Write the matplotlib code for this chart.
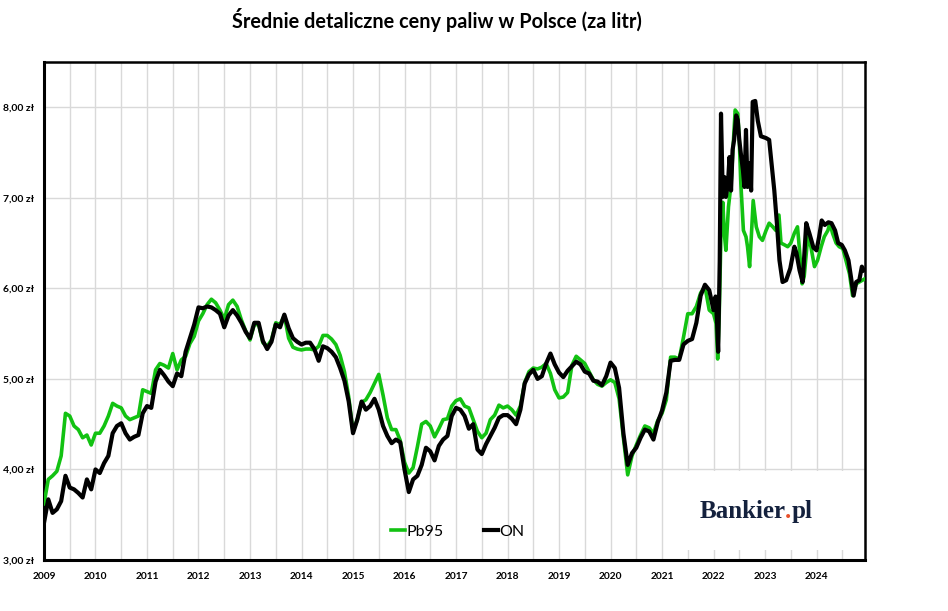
import numpy as np
import matplotlib
matplotlib.use("Agg")
from matplotlib import pyplot as plt
from matplotlib.patches import Rectangle

# monthly averages 2009-01 .. 2021-12 (zl per litre)
months = np.arange(2009, 2022, 1 / 12)

pb95_monthly = [
    3.62, 3.89, 3.93, 3.98, 4.15, 4.62, 4.59, 4.48, 4.44, 4.35, 4.38, 4.27,
    4.40, 4.40, 4.48, 4.59, 4.73, 4.70, 4.68, 4.59, 4.55, 4.57, 4.59, 4.88,
    4.86, 4.84, 5.10, 5.17, 5.15, 5.12, 5.28, 5.10, 5.21, 5.25, 5.39, 5.47,
    5.64, 5.72, 5.82, 5.88, 5.84, 5.76, 5.66, 5.82, 5.87, 5.80, 5.65, 5.53,
    5.43, 5.60, 5.60, 5.40, 5.36, 5.43, 5.62, 5.60, 5.70, 5.45, 5.35, 5.33,
    5.32, 5.33, 5.33, 5.32, 5.36, 5.48, 5.48, 5.44, 5.38, 5.26, 5.08, 4.80,
    4.42, 4.55, 4.74, 4.77, 4.85, 4.95, 5.05, 4.82, 4.57, 4.44, 4.44, 4.32,
    4.08, 3.96, 4.02, 4.25, 4.50, 4.53, 4.48, 4.36, 4.45, 4.55, 4.56, 4.70,
    4.76, 4.78, 4.70, 4.68, 4.55, 4.42, 4.35, 4.40, 4.55, 4.60, 4.71, 4.68,
    4.70, 4.66, 4.60, 4.70, 4.96, 5.08, 5.12, 5.11, 5.13, 5.17, 5.06, 4.88,
    4.79, 4.80, 4.85, 5.15, 5.25, 5.21, 5.17, 5.08, 4.99, 4.94, 4.92, 4.96,
    4.99, 4.96, 4.78, 4.35, 3.94, 4.15, 4.27, 4.38, 4.48, 4.46, 4.40, 4.54,
    4.62, 4.77, 5.24, 5.24, 5.22, 5.46, 5.72, 5.72, 5.80, 5.95, 6.02, 5.76,
]

on_monthly = [
    3.41, 3.67, 3.52, 3.56, 3.65, 3.93, 3.80, 3.78, 3.74, 3.69, 3.89, 3.78,
    4.00, 3.96, 4.07, 4.15, 4.40, 4.48, 4.51, 4.40, 4.33, 4.36, 4.38, 4.62,
    4.70, 4.68, 4.97, 5.10, 5.04, 4.97, 4.92, 5.06, 5.03, 5.30, 5.45, 5.60,
    5.79, 5.78, 5.80, 5.79, 5.76, 5.72, 5.57, 5.70, 5.76, 5.70, 5.62, 5.52,
    5.45, 5.62, 5.62, 5.42, 5.33, 5.41, 5.60, 5.57, 5.71, 5.56, 5.45, 5.41,
    5.38, 5.40, 5.40, 5.33, 5.20, 5.36, 5.34, 5.30, 5.24, 5.12, 4.98, 4.75,
    4.40, 4.55, 4.75, 4.66, 4.70, 4.78, 4.66, 4.48, 4.37, 4.29, 4.33, 4.30,
    4.00, 3.75, 3.89, 3.93, 4.05, 4.24, 4.20, 4.10, 4.26, 4.33, 4.37, 4.59,
    4.68, 4.66, 4.59, 4.45, 4.50, 4.22, 4.17, 4.28, 4.37, 4.46, 4.57, 4.60,
    4.60, 4.56, 4.50, 4.66, 4.95, 5.05, 5.10, 5.00, 5.03, 5.17, 5.28, 5.16,
    5.07, 5.02, 5.09, 5.14, 5.19, 5.16, 5.08, 5.06, 4.98, 4.97, 4.93, 5.03,
    5.18, 5.12, 4.90, 4.40, 4.05, 4.18, 4.24, 4.35, 4.44, 4.42, 4.33, 4.52,
    4.65, 4.85, 5.20, 5.21, 5.21, 5.38, 5.42, 5.44, 5.62, 5.92, 6.04, 5.98,
]

# 2022-2024 read at finer resolution (decimal years)
pb95_late_t = [2022.00, 2022.05, 2022.08, 2022.11, 2022.15, 2022.18, 2022.21, 2022.24,
               2022.29, 2022.34, 2022.38, 2022.42, 2022.47, 2022.50, 2022.53, 2022.58,
               2022.63, 2022.66, 2022.70, 2022.73, 2022.77, 2022.83, 2022.89, 2022.95,
               2023.02, 2023.08, 2023.15, 2023.21, 2023.27, 2023.31, 2023.38, 2023.44,
               2023.50, 2023.57, 2023.63, 2023.67, 2023.72, 2023.76, 2023.83, 2023.89,
               2023.96, 2024.02, 2024.09, 2024.15, 2024.22, 2024.26, 2024.31, 2024.38,
               2024.44, 2024.51, 2024.57, 2024.64, 2024.70, 2024.77, 2024.83, 2024.92]
pb95_late_v = [5.72, 5.61, 5.22, 5.70, 6.75, 6.95, 6.60, 6.42,
               6.90, 7.15, 7.55, 7.97, 7.93, 7.64, 7.16, 6.64,
               6.57, 6.46, 6.24, 6.53, 6.97, 6.68, 6.57, 6.53,
               6.64, 6.72, 6.68, 6.64, 6.81, 6.50, 6.48, 6.46,
               6.50, 6.61, 6.68, 6.42, 6.05, 6.13, 6.57, 6.46,
               6.24, 6.31, 6.46, 6.57, 6.64, 6.72, 6.61, 6.50,
               6.46, 6.44, 6.31, 6.16, 5.92, 6.05, 6.07, 6.10]

on_late_t = [2022.00, 2022.04, 2022.07, 2022.09, 2022.12, 2022.145, 2022.18, 2022.21,
             2022.24, 2022.28, 2022.31, 2022.34, 2022.37, 2022.40, 2022.44, 2022.47,
             2022.50, 2022.53, 2022.57, 2022.60, 2022.63, 2022.66, 2022.70, 2022.73,
             2022.76, 2022.81, 2022.86, 2022.92, 2023.02, 2023.08, 2023.14, 2023.18,
             2023.23, 2023.28, 2023.34, 2023.41, 2023.49, 2023.57, 2023.61, 2023.67,
             2023.73, 2023.80, 2023.86, 2023.94, 2024.00, 2024.05, 2024.10, 2024.16,
             2024.23, 2024.29, 2024.36, 2024.42, 2024.49, 2024.55, 2024.62, 2024.67,
             2024.72, 2024.77, 2024.83, 2024.88, 2024.92]
on_late_v = [5.76, 5.91, 5.60, 5.30, 6.30, 7.93, 7.01, 7.23,
             7.01, 7.16, 7.45, 7.08, 7.53, 7.64, 7.91, 7.86,
             7.64, 7.49, 7.31, 7.12, 7.75, 7.12, 7.38, 7.08,
             8.06, 8.07, 7.85, 7.68, 7.66, 7.64, 7.30, 7.08,
             6.72, 6.31, 6.07, 6.09, 6.22, 6.46, 6.39, 6.20,
             6.07, 6.72, 6.61, 6.45, 6.42, 6.57, 6.75, 6.70,
             6.73, 6.72, 6.64, 6.50, 6.48, 6.42, 6.31, 6.12,
             5.92, 6.07, 6.09, 6.24, 6.20]

years = list(range(2009, 2025))
yticks = [3, 4, 5, 6, 7, 8]

pb95_t = list(months) + pb95_late_t
pb95_v = pb95_monthly + pb95_late_v
on_t = list(months) + on_late_t
on_v = on_monthly + on_late_v

GREEN = "#12c212"
fam = ["Lato", "DejaVu Sans"]

fig = plt.figure(figsize=(9.48, 6.11), dpi=100)
ax = fig.add_axes([0.0464, 0.0835, 0.866, 0.815])

ax.plot(pb95_t, pb95_v, color=GREEN, lw=2.6, label="Pb95", zorder=3)
ax.plot(on_t, on_v, color="black", lw=3.0, label="ON", zorder=4)

ax.set_xlim(2009, 2024.94)
ax.set_ylim(3, 8.5)
ax.set_xticks(years)
ax.set_xticks([y + 0.5 for y in years], minor=True)
ax.set_xticklabels([str(y) for y in years], fontsize=7.3, fontweight="bold", family=fam)
ax.set_yticks(yticks)
ax.set_yticklabels(["%d,00 zł" % v for v in yticks], fontsize=7.5, fontweight="bold", family=fam)
ax.tick_params(axis="both", which="both", length=0)
ax.tick_params(axis="y", pad=7)
ax.tick_params(axis="x", pad=9)
ax.grid(True, which="both", axis="x", color="#d9d9d9", lw=1)
ax.grid(True, which="major", axis="y", color="#d9d9d9", lw=1)
ax.set_axisbelow(True)
for s in ax.spines.values():
    s.set_linewidth(1.8)
ax.spines["left"].set_linewidth(2.2)
ax.spines["bottom"].set_linewidth(2.2)

# white box behind the logo
ax.add_patch(Rectangle((0.768, 0.02), 0.229, 0.158, transform=ax.transAxes,
                       facecolor="white", edgecolor="none", zorder=2))
NAVY = "#14213d"
t1 = ax.text(0.903, 0.098, "Bankier", transform=ax.transAxes, ha="right", va="center",
             fontsize=18, fontweight="bold", family="Liberation Serif", color=NAVY, zorder=5)
t2 = ax.annotate(".", xy=(1, 0), xycoords=t1, va="bottom", ha="left",
                 fontsize=18, fontweight="bold", family="Liberation Serif", color="#e8502a", zorder=5)
ax.annotate("pl", xy=(1, 0), xycoords=t2, va="bottom", ha="left",
            fontsize=18, fontweight="bold", family="Liberation Serif", color=NAVY, zorder=5)

leg = ax.legend(loc="center", bbox_to_anchor=(0.504, 0.057), ncol=2, frameon=False,
                handlelength=0.9, handletextpad=0.1, columnspacing=2.5,
                prop={"family": fam, "size": 11.5})

fig.text(0.461, 0.968, "Średnie detaliczne ceny paliw w Polsce (za litr)", ha="center",
         va="center", fontsize=14.3, fontweight="bold", family=fam)

fig.savefig("out.png", dpi=100)
